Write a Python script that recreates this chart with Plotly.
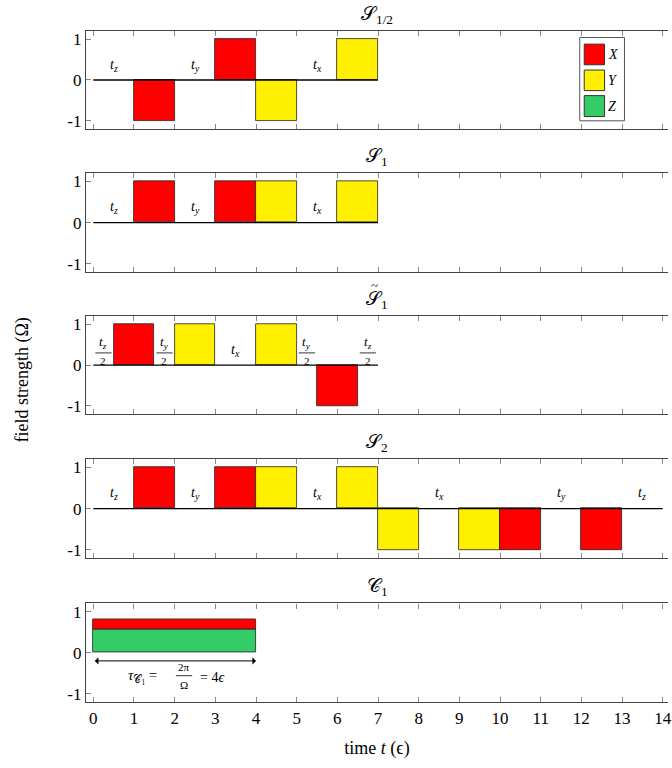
import plotly.graph_objects as go

# ---------------- data ----------------
x_ticks = list(range(0, 15))
y_tick_vals = [-1, 0, 1]
y_tick_text = ["-1", "0", "1"]

channel_colors = {"X": "#FF0000", "Y": "#FFF000", "Z": "#33CC66"}
legend_labels = ["X", "Y", "Z"]

panel_titles = ["𝒮<sub>1/2</sub>", "𝒮<sub>1</sub>", "𝒮<sub>1</sub>", "𝒮<sub>2</sub>", "𝒞<sub>1</sub>"]
panel_tilde = [False, False, True, False, False]

# S_1/2
s_half_start = [1, 3, 4, 6]
s_half_dur = [1, 1, 1, 1]
s_half_val = [-1, 1, -1, 1]
s_half_ch = ["X", "X", "Y", "Y"]
s_half_lab_x = [0.5, 2.5, 5.5]
s_half_lab = ["z", "y", "x"]

# S_1
s1_start = [1, 3, 4, 6]
s1_dur = [1, 1, 1, 1]
s1_val = [1, 1, 1, 1]
s1_ch = ["X", "X", "Y", "Y"]
s1_lab_x = [0.5, 2.5, 5.5]
s1_lab = ["z", "y", "x"]

# S~_1
s1t_start = [0.5, 2, 4, 5.5]
s1t_dur = [1, 1, 1, 1]
s1t_val = [1, 1, 1, -1]
s1t_ch = ["X", "Y", "Y", "X"]
s1t_lab_x = [0.25, 1.75, 3.5, 5.25, 6.75]
s1t_lab = ["z/2", "y/2", "x", "y/2", "z/2"]

# S_2
s2_start = [1, 3, 4, 6, 7, 9, 10, 12]
s2_dur = [1, 1, 1, 1, 1, 1, 1, 1]
s2_val = [1, 1, 1, 1, -1, -1, -1, -1]
s2_ch = ["X", "X", "Y", "Y", "Y", "Y", "X", "X"]
s2_lab_x = [0.5, 2.5, 5.5, 8.5, 11.5, 13.5]
s2_lab = ["z", "y", "x", "x", "y", "z"]

# C_1 (stacked: Z bottom, X on top)
c1_start = [0, 0]
c1_dur = [4, 4]
c1_val = [0.57, 0.25]
c1_base = [0, 0.57]
c1_ch = ["Z", "X"]

baseline_end = [7, 7, 7, 14, None]

panels = [
    dict(start=s_half_start, dur=s_half_dur, val=s_half_val, ch=s_half_ch, base=None, lab_x=s_half_lab_x, lab=s_half_lab),
    dict(start=s1_start, dur=s1_dur, val=s1_val, ch=s1_ch, base=None, lab_x=s1_lab_x, lab=s1_lab),
    dict(start=s1t_start, dur=s1t_dur, val=s1t_val, ch=s1t_ch, base=None, lab_x=s1t_lab_x, lab=s1t_lab),
    dict(start=s2_start, dur=s2_dur, val=s2_val, ch=s2_ch, base=None, lab_x=s2_lab_x, lab=s2_lab),
    dict(start=c1_start, dur=c1_dur, val=c1_val, ch=c1_ch, base=c1_base, lab_x=[], lab=[]),
]

# ---------------- layout ----------------
FONT = "Liberation Serif, DejaVu Serif, serif"
domains = [[0.854, 1.0], [0.641, 0.788], [0.429, 0.575], [0.2146, 0.362], [0.0, 0.147]]
x_range = [-0.18, 14.13]
y_range = [-1.2, 1.2]
axis_col = "#444444"
tick_col = "#888888"

fig = go.Figure()
annotations = []
shapes = []

for i, p in enumerate(panels):
    n = i + 1
    xa = "x" if n == 1 else f"x{n}"
    ya = "y" if n == 1 else f"y{n}"
    for k in range(len(p["start"])):
        fig.add_trace(go.Bar(
            x=[p["start"][k]], y=[p["val"][k]], width=[p["dur"][k]], offset=0,
            base=[p["base"][k]] if p["base"] else None,
            marker=dict(color=channel_colors[p["ch"][k]], line=dict(color="#222222", width=0.8)),
            xaxis=xa, yaxis=ya, showlegend=False, hoverinfo="skip",
        ))
    if baseline_end[i] is not None:
        fig.add_trace(go.Scatter(x=[0, baseline_end[i]], y=[0, 0], mode="lines",
                                 line=dict(color="black", width=1.3),
                                 xaxis=xa, yaxis=ya, showlegend=False, hoverinfo="skip"))
    for lx, lt in zip(p["lab_x"], p["lab"]):
        if "/" in lt:
            sub = lt.split("/")[0]
            annotations.append(dict(x=lx, y=0.31, xref=xa, yref=ya, text=f"<i>t<sub>{sub}</sub></i>",
                                    yanchor="bottom", showarrow=False, font=dict(family=FONT, size=13, color="black")))
            annotations.append(dict(x=lx, y=0.29, xref=xa, yref=ya, text="2", yanchor="top",
                                    showarrow=False, font=dict(family=FONT, size=11, color="black")))
            shapes.append(dict(type="line", xref=xa, yref=ya, x0=lx - 0.2, x1=lx + 0.2, y0=0.3, y1=0.3,
                               line=dict(color="black", width=0.8)))
        else:
            annotations.append(dict(x=lx, y=0.36, xref=xa, yref=ya, text=f"<i>t<sub>{lt}</sub></i>",
                                    showarrow=False, font=dict(family=FONT, size=14, color="black")))
    annotations.append(dict(x=0.5, y=domains[i][1], xref="paper", yref="paper", text=panel_titles[i],
                            showarrow=False, yanchor="bottom", yshift=2,
                            font=dict(family=FONT, size=19, color="black")))
    if panel_tilde[i]:
        annotations.append(dict(x=0.5, y=domains[i][1], xref="paper", yref="paper", text="~",
                                showarrow=False, yanchor="bottom", yshift=21, xshift=-3,
                                font=dict(family=FONT, size=13, color="black")))

    fig.layout[("xaxis" if n == 1 else f"xaxis{n}")] = dict(
        range=x_range, anchor=ya, domain=[0, 1], tickvals=x_ticks,
        showticklabels=(n == 5), ticks="inside", ticklen=5, tickcolor=tick_col, tickwidth=1,
        showline=True, linecolor=axis_col, linewidth=1.3, mirror="ticks",
        ticklabeloverflow="allow",
        showgrid=False, zeroline=False, tickfont=dict(family=FONT, size=17, color="black"),
        title=dict(text="time <i>t</i> (ϵ)", font=dict(family=FONT, size=18, color="black"), standoff=14) if n == 5 else None,
    )
    fig.layout[("yaxis" if n == 1 else f"yaxis{n}")] = dict(
        range=y_range, anchor=xa, domain=domains[i], tickvals=y_tick_vals, ticktext=y_tick_text,
        ticks="inside", ticklen=5, tickcolor=tick_col, tickwidth=1,
        showline=True, linecolor=axis_col, linewidth=1.3, mirror=False,
        showgrid=False, zeroline=False, tickfont=dict(family=FONT, size=17, color="black"),
    )

# C1 duration arrow and label
annotations.append(dict(x=4, y=-0.2, ax=0, ay=-0.2, xref="x5", yref="y5", axref="x5", ayref="y5",
                        text="", showarrow=True, arrowhead=1, startarrowhead=1, arrowside="end+start",
                        arrowsize=1.2, arrowwidth=1, arrowcolor="black"))
annotations.append(dict(x=1.62, y=-0.6, xref="x5", yref="y5", xanchor="right", showarrow=False,
                        text="<i>τ</i><sub>𝒞<sub>1</sub></sub> =", font=dict(family=FONT, size=15, color="black")))
annotations.append(dict(x=2.23, y=-0.54, xref="x5", yref="y5", showarrow=False, yanchor="bottom",
                        text="2π", font=dict(family=FONT, size=11, color="black")))
annotations.append(dict(x=2.23, y=-0.58, xref="x5", yref="y5", showarrow=False, yanchor="top",
                        text="Ω", font=dict(family=FONT, size=11, color="black")))
shapes.append(dict(type="line", xref="x5", yref="y5", x0=2.03, x1=2.43, y0=-0.56, y1=-0.56,
                   line=dict(color="black", width=0.8)))
annotations.append(dict(x=2.58, y=-0.6, xref="x5", yref="y5", xanchor="left", showarrow=False,
                        text="= 4<i>ϵ</i>", font=dict(family=FONT, size=14, color="black")))

# manual legend in first panel
shapes.append(dict(type="rect", xref="x", yref="y", x0=11.96, x1=13.06, y0=-1.0, y1=1.04,
                   line=dict(color="#555555", width=1), fillcolor="white", layer="below"))
sw_y = [(0.373, 0.878), (-0.26, 0.244), (-0.895, -0.383)]
for (y0, y1), lab in zip(sw_y, legend_labels):
    shapes.append(dict(type="rect", xref="x", yref="y", x0=12.07, x1=12.57, y0=y0, y1=y1,
                       fillcolor=channel_colors[lab], line=dict(color="#333333", width=1)))
    annotations.append(dict(x=12.6, y=(y0 + y1) / 2, xref="x", yref="y", xanchor="left", showarrow=False,
                            text=f"<i>{lab}</i>", font=dict(family=FONT, size=14, color="black")))

annotations.append(dict(x=-0.109, y=0.48, xref="paper", yref="paper", text="field strength (Ω)",
                        xanchor="center", yanchor="middle",
                        textangle=-90, showarrow=False, font=dict(family=FONT, size=18, color="black")))

fig.update_layout(
    width=672, height=768,
    margin=dict(l=86, r=0, t=31, b=66),
    plot_bgcolor="white", paper_bgcolor="white",
    barmode="overlay", bargap=0,
    annotations=annotations, shapes=shapes,
    showlegend=False,
    font=dict(family=FONT, color="black"),
)

fig.write_html("out.html", config={"displayModeBar": False},
               post_script="document.body.style.margin='0';document.body.style.overflow='hidden';")
